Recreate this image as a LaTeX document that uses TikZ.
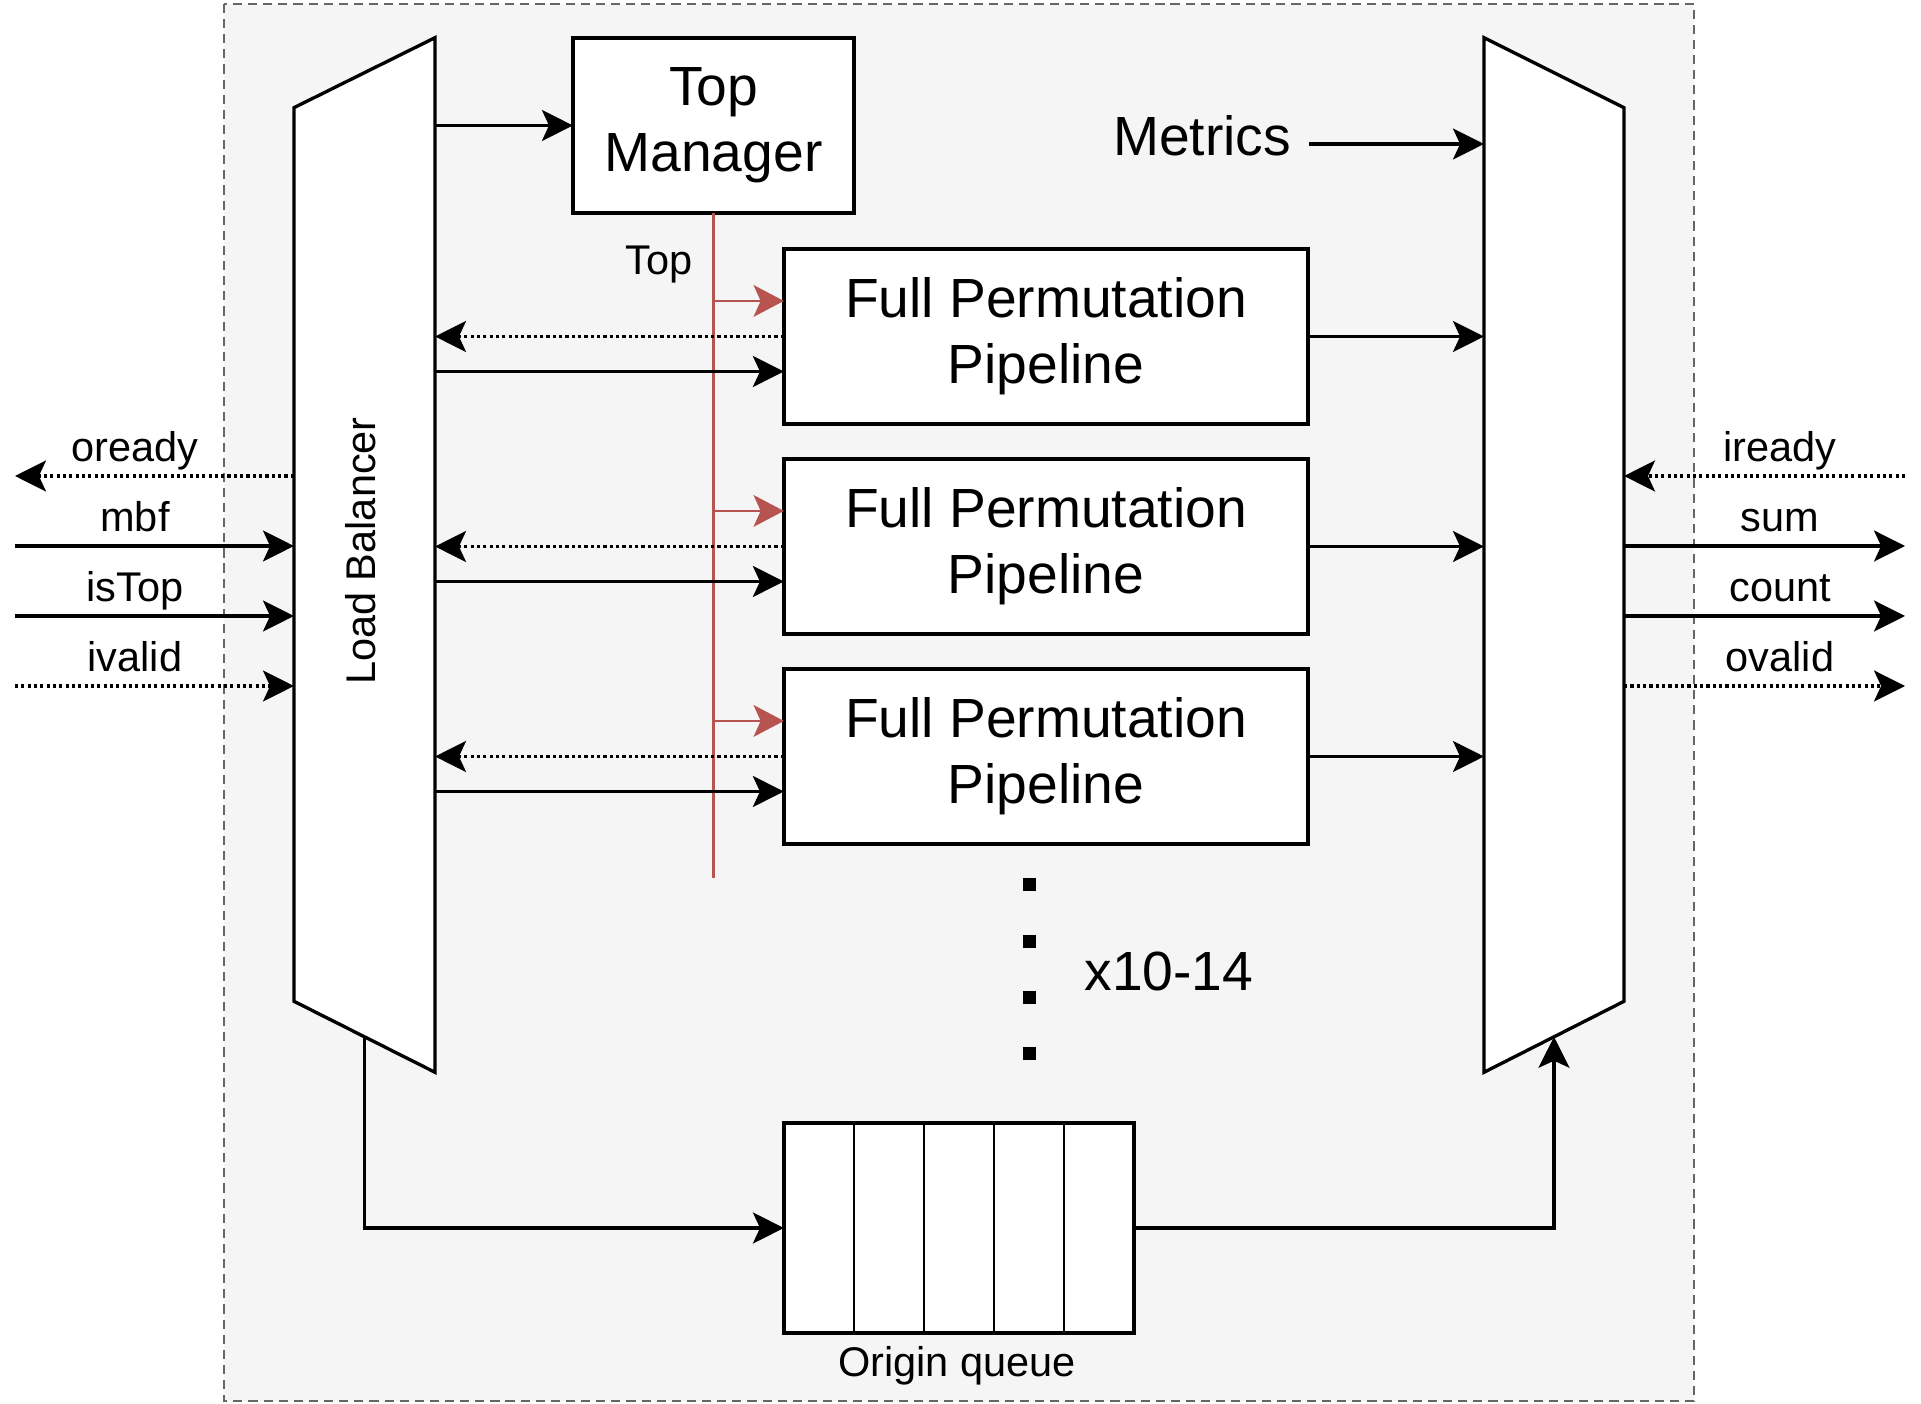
\documentclass[tikz,border=0pt]{standalone}
\usepackage{fontspec}
\setmainfont{Liberation Sans}
\usetikzlibrary{arrows.meta,calc}
\definecolor{bgc}{HTML}{F5F5F5}
\definecolor{bordc}{HTML}{666666}
\definecolor{redc}{HTML}{B85450}
\tikzset{
  big/.style={font=\fontsize{15.7}{18.8}\selectfont, align=center},
  small/.style={font=\fontsize{11.8}{14}\selectfont},
  hidden/.style={draw=none, inner sep=0pt, outer sep=0pt},
  shapeln/.style={draw=black, fill=white, line width=0.95pt, line join=miter},
  blockbox/.style={draw=black, fill=white, line width=0.95pt, inner sep=0pt, outer sep=0pt, big},
  arr/.style={-{Stealth[length=8.8pt,width=8.8pt,inset=2pt]}, line width=0.95pt},
  dotarr/.style={arr, dash pattern=on 0.9pt off 0.9pt},
  redln/.style={draw=redc, line width=0.75pt},
  redarr/.style={redln, -{Stealth[length=8.6pt,width=9pt,inset=2pt]}},
}
\begin{document}
\begin{tikzpicture}[x=0.01cm,y=-0.01cm]
\useasboundingbox (0,0) rectangle (1921,1404);
% background frame
\draw[draw=bordc, fill=bgc, line width=0.6pt, dash pattern=on 2.6pt off 1.7pt] (224,4) rectangle (1694,1401);

% load balancer
\node[hidden, minimum width=1.41cm, minimum height=10.34cm] (lb) at (364.5,555) {};
\draw[shapeln] (lb.north east) -- (lb.south east) -- ($(lb.south west)+(0,-71)$) -- ($(lb.north west)+(0,70)$) -- cycle;
\node[small, rotate=90] (lbl) at (361,551) {Load Balancer};

% output mux
\node[hidden, minimum width=1.40cm, minimum height=10.34cm] (mux) at (1554,555) {};
\draw[shapeln] (mux.north west) -- ($(mux.north east)+(0,70)$) -- ($(mux.south east)+(0,-71)$) -- (mux.south west) -- cycle;

% top manager
\node[blockbox, minimum width=2.81cm, minimum height=1.75cm] (tm) at (713.5,125.5) {Top\\Manager};

% pipelines
\node[blockbox, minimum width=5.24cm, minimum height=1.75cm] (p1) at (1046,336.5) {Full Permutation\\Pipeline};
\node[blockbox, minimum width=5.24cm, minimum height=1.75cm] (p2) at (1046,546.5) {Full Permutation\\Pipeline};
\node[blockbox, minimum width=5.24cm, minimum height=1.75cm] (p3) at (1046,756.5) {Full Permutation\\Pipeline};

% origin queue
\node[blockbox, minimum width=3.5cm, minimum height=2.1cm] (q) at (959,1228) {};
\foreach \i in {1,...,4}
  \draw[line width=0.7pt] ($(q.north west)+(70*\i,0)$) -- ($(q.south west)+(70*\i,0)$);
\node[small] (ql) at (957,1366) {Origin queue};

% LB -> top manager
\draw[arr] (lb.east |- tm.west) -- (tm.west);

% red Top bus
\coordinate (redend) at (713.5,878);
\draw[redln] (tm.south) -- (redend);
\node[small] (toplbl) at (659,265) {Top};
\foreach \p in {p1,p2,p3}{
  \coordinate (r\p) at ($(tm.south |- \p.north)+(0,52)$);
  \draw[redarr] (r\p) -- (r\p -| \p.west);
}

% pipeline connections
\foreach \p in {p1,p2,p3}{
  \draw[dotarr] (\p.west) -- (\p.west -| lb.east);
  \coordinate (s\p) at ($(\p.west)+(0,35)$);
  \draw[arr] (s\p -| lb.east) -- (s\p);
  \draw[arr] (\p.east) -- (\p.east -| mux.west);
}

% metrics
\node[big] (met) at (1202,136) {Metrics};
\coordinate (metout) at (1309,144);
\draw[arr] (metout) -- (metout -| mux.west);

% left signals
\coordinate (oready) at (15,476);
\coordinate (mbf) at (15,546);
\coordinate (istop) at (15,616);
\coordinate (ivalid) at (15,686);
\draw[dotarr] (oready -| lb.west) -- (oready);
\draw[arr] (mbf) -- (mbf -| lb.west);
\draw[arr] (istop) -- (istop -| lb.west);
\draw[dotarr] (ivalid) -- (ivalid -| lb.west);
\node[small, anchor=base] (loready) at (135,462) {oready};
\node[small, anchor=base] (lmbf) at (135,532) {mbf};
\node[small, anchor=base] (listop) at (135,602) {isTop};
\node[small, anchor=base] (livalid) at (135,672) {ivalid};

% right signals
\coordinate (iready) at (1905,476);
\coordinate (sum) at (1905,546);
\coordinate (count) at (1905,616);
\coordinate (ovalid) at (1905,686);
\draw[dotarr] (iready) -- (iready -| mux.east);
\draw[arr] (sum -| mux.east) -- (sum);
\draw[arr] (count -| mux.east) -- (count);
\draw[dotarr] (ovalid -| mux.east) -- (ovalid);
\node[small, anchor=base] (liready) at (1780,462) {iready};
\node[small, anchor=base] (lsum) at (1780,532) {sum};
\node[small, anchor=base] (lcount) at (1780,602) {count};
\node[small, anchor=base] (lovalid) at (1780,672) {ovalid};

% vertical dots and multiplicity
\foreach \y in {885,941.3,997.6,1054}
  \fill ($(1029,\y)+(-6.5,-6.5)$) rectangle +(13,13);
\node[big] (mult) at (1169,971) {x10-14};

% queue connections
\draw[arr] ($(lb.south)+(0,-35.5)$) |- (q.west);
\draw[arr] (q.east) -| ($(mux.south)+(0,-35.5)$);
\end{tikzpicture}
\end{document}
